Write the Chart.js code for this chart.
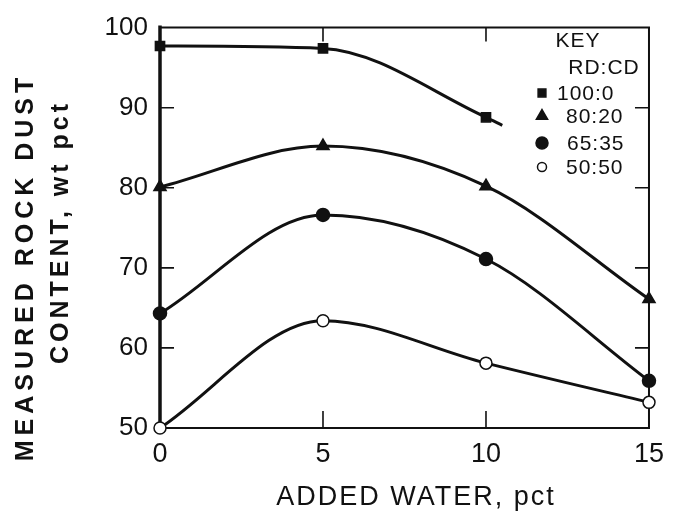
<!DOCTYPE html>
<html>
<head>
<meta charset="utf-8">
<script src="https://cdn.jsdelivr.net/npm/chart.js@4.4.0/dist/chart.umd.min.js"></script>
<style>
html, body { margin: 0; padding: 0; background: #fff; }
</style>
</head>
<body>
<canvas id="rockChart" width="674" height="515"></canvas>
<script>
// added water, pct (x) and measured rock dust content, wt pct (y)
var waterPct = [0, 5, 10, 15];
var waterPct100 = [0, 5, 10, 10.5];   // 100:0 curve stops just past 10
var rd100 = [97.7, 97.4, 88.8, 87.8];
var rd80 = [80.1, 85.2, 80.2, 66.1];
var rd65 = [64.3, 76.6, 71.1, 55.9];
var rd50 = [50.0, 63.4, 58.1, 53.2];
var seriesNames = ['100:0', '80:20', '65:35', '50:50'];
var xTicks = [0, 5, 10, 15];
var yTicks = [50, 60, 70, 80, 90, 100];

var ink = '#111';
var FONT = '"Liberation Sans", Arial, sans-serif';

function pts(xs, ys) {
  var out = [];
  for (var i = 0; i < ys.length; i++) out.push({x: xs[i], y: ys[i]});
  return out;
}

function series(name, xs, ys, style, fill, radius) {
  return {
    label: name,
    data: pts(xs, ys),
    borderColor: ink,
    borderWidth: 3,
    cubicInterpolationMode: 'monotone',
    pointStyle: style,
    pointRadius: radius,
    pointBackgroundColor: fill,
    pointBorderColor: ink,
    pointBorderWidth: 1.5,
    clip: false
  };
}

// frame with inward tick marks, like the printed figure
var framePlugin = {
  id: 'frame',
  beforeDatasetsDraw: function(chart) {
    var ctx = chart.ctx, a = chart.chartArea;
    var xs = chart.scales.x, ys = chart.scales.y;
    ctx.save();
    ctx.strokeStyle = ink;
    ctx.lineWidth = 2;
    ctx.beginPath();
    ctx.moveTo(a.left, a.top); ctx.lineTo(a.right, a.top);
    ctx.lineTo(a.right, a.bottom); ctx.lineTo(a.left, a.bottom);
    ctx.stroke();
    ctx.lineWidth = 3.5;
    ctx.beginPath();
    ctx.moveTo(a.left, a.top - 2); ctx.lineTo(a.left, a.bottom);
    ctx.stroke();
    ctx.lineWidth = 1.6;
    ctx.beginPath();
    xTicks.forEach(function(v) {
      if (v == xs.min || v == xs.max) return;
      var px = xs.getPixelForValue(v);
      ctx.moveTo(px, a.bottom); ctx.lineTo(px, a.bottom - 17);
      ctx.moveTo(px, a.top); ctx.lineTo(px, a.top + 14);
    });
    yTicks.forEach(function(v) {
      if (v == ys.min || v == ys.max) return;
      var py = ys.getPixelForValue(v);
      ctx.moveTo(a.left, py); ctx.lineTo(a.left + 14, py);
      ctx.moveTo(a.right, py); ctx.lineTo(a.right - 14, py);
    });
    ctx.stroke();
    ctx.restore();
  },
  afterDraw: function(chart) {
    var ctx = chart.ctx;
    ctx.save();
    ctx.fillStyle = ink;

    // axis titles
    ctx.letterSpacing = '2px';
    ctx.font = '27px ' + FONT;
    ctx.textAlign = 'center';
    ctx.textBaseline = 'middle';
    ctx.fillText('ADDED WATER, pct', 416, 498);

    ctx.save();
    ctx.translate(33, 267);
    ctx.rotate(-Math.PI / 2);
    ctx.letterSpacing = '5px';
    ctx.font = 'bold 25px ' + FONT;
    ctx.textBaseline = 'alphabetic';
    ctx.fillText('MEASURED ROCK DUST', 0, 0);
    ctx.restore();
    ctx.save();
    ctx.translate(68, 232);
    ctx.rotate(-Math.PI / 2);
    ctx.letterSpacing = '4px';
    ctx.font = 'bold 25px ' + FONT;
    ctx.textBaseline = 'alphabetic';
    ctx.fillText('CONTENT, wt pct', 0, 0);
    ctx.restore();

    // key
    ctx.letterSpacing = '1px';
    ctx.font = '21px ' + FONT;
    ctx.textAlign = 'center';
    ctx.fillText('KEY', 578, 41);
    ctx.fillText('RD:CD', 604, 68);
    var rows = [93, 116, 143, 167];
    var sizes = [5.5, 6.5, 6, 4.5];
    var textLeft = [557, 566, 567, 566];
    ctx.textAlign = 'left';
    chart.data.datasets.forEach(function(ds, i) {
      ctx.fillStyle = ds.pointBackgroundColor;
      ctx.strokeStyle = ink;
      ctx.lineWidth = 1.5;
      Chart.helpers.drawPoint(ctx, {
        pointStyle: ds.pointStyle,
        radius: sizes[i],
        rotation: 0,
        borderWidth: 1.5
      }, 542, rows[i]);
      ctx.fillStyle = ink;
      ctx.fillText(seriesNames[i], textLeft[i], rows[i] + 1);
    });
    ctx.restore();
  }
};

var ctx = document.getElementById('rockChart');
new Chart(ctx, {
  type: 'line',
  data: {
    datasets: [
      series(seriesNames[0], waterPct100, rd100, 'rect', ink, [6.5, 6.5, 6.5, 0]),
      series(seriesNames[1], waterPct, rd80, 'triangle', ink, 7),
      series(seriesNames[2], waterPct, rd65, 'circle', ink, 6.5),
      series(seriesNames[3], waterPct, rd50, 'circle', '#fff', 6)
    ]
  },
  options: {
    responsive: false,
    devicePixelRatio: 1,
    animation: false,
    layout: { padding: { top: 22, right: 13, left: 0, bottom: 0 } },
    plugins: { legend: { display: false }, tooltip: { enabled: false } },
    scales: {
      x: {
        type: 'linear',
        min: 0, max: 15,
        afterFit: function(s) { s.height = 87; },
        afterBuildTicks: function(s) { s.ticks = xTicks.map(function(v) { return {value: v}; }); },
        grid: { display: false, drawTicks: false },
        border: { display: false },
        ticks: { color: ink, padding: 10, font: { family: FONT, size: 27 } }
      },
      y: {
        min: 50, max: 100,
        afterFit: function(s) { s.width = 160; },
        afterBuildTicks: function(s) { s.ticks = yTicks.map(function(v) { return {value: v}; }); },
        grid: { display: false, drawTicks: false },
        border: { display: false },
        ticks: { color: ink, padding: 12, font: { family: FONT, size: 26 } }
      }
    }
  },
  plugins: [framePlugin]
});
</script>
</body>
</html>
